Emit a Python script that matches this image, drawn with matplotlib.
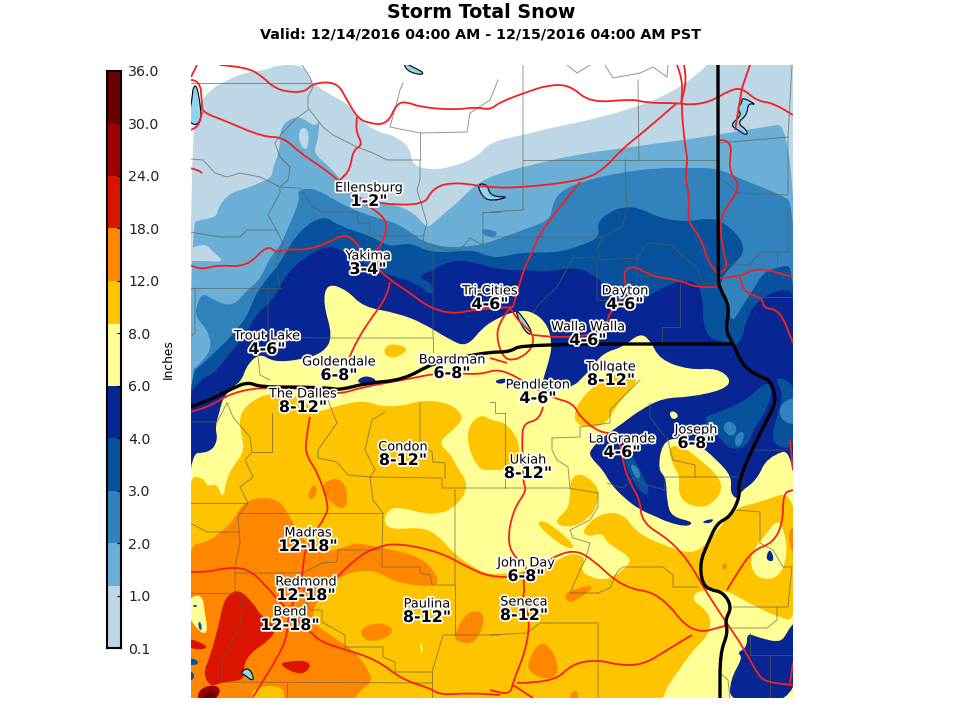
import matplotlib
matplotlib.use("Agg")
import matplotlib.pyplot as plt
import matplotlib.patheffects as pe
from matplotlib.path import Path
from matplotlib.patches import PathPatch

# colour classes of the snow total, inches
tick_labels = ["0.1", "1.0", "2.0", "3.0", "4.0", "6.0", "8.0", "12.0", "18.0", "24.0", "30.0", "36.0"]
class_edges = [0, 1.19, 2, 3, 4, 5, 6.18, 7, 8, 9, 10, 11]
class_colors = ["#bdd7e7", "#6baed6", "#3182bd", "#08519c", "#082693", "#ffff96",
                "#ffc400", "#ff8700", "#db1400", "#9e0000", "#690000"]

# contour outlines, in picture pixels
snow_01 = [(191,127),(200,103),(210,90),(227,80),(247,72),(267,70),(277,65),(302,65),(310,77),(313,83),(327,93),(347,103),
           (360,120),(377,132),(393,135),(410,147),(412,165),(430,170),(453,167),(477,157),(490,142),(523,135),(550,128),
           (590,120),(637,107),(673,92),(703,70),(708,62),(785,60),(798,60),(798,75),(798,690),(798,703),(785,703),
           (199,703),(186,703),(186,690)]
snow_1 = [(191,223),(200,220),(217,217),(218,207),(230,193),(247,188),(260,183),(272,177),(273,167),(280,150),(280,127),
          (293,117),(303,118),(315,127),(320,120),(319,125),(318,140),(313,153),(330,167),(343,183),(357,197),(387,203),
          (410,210),(423,223),(428,228),(440,217),(457,203),(477,183),(500,173),(523,167),(573,155),(623,148),(683,140),
          (717,135),(757,128),(798,122),(798,690),(798,703),(785,703),(199,703),(186,703),(186,690)]
snow_2 = [(191,370),(197,367),(212,350),(208,330),(195,317),(197,303),(203,293),(213,300),(233,307),(247,290),(260,280),
          (270,257),(280,247),(290,223),(300,200),(297,190),(313,188),(330,197),(347,207),(373,217),(397,223),(417,237),
          (427,243),(450,248),(480,245),(490,242),(510,235),(523,230),(550,220),(552,207),(558,193),(580,182),(617,173),
          (657,168),(687,168),(717,168),(743,180),(777,193),(798,205),(798,690),(798,703),(785,703),(199,703),(186,703),(186,690)]
snow_3 = [(186,378),(207,360),(217,350),(228,340),(247,317),(253,300),(263,283),(277,267),(283,257),(300,230),(323,215),
          (337,225),(373,237),(390,247),(407,243),(420,247),(430,252),(453,252),(473,250),(490,257),(503,257),(523,252),
          (557,253),(583,245),(600,237),(597,222),(610,212),(623,207),(640,208),(657,217),(683,222),(710,218),(723,222),
          (740,237),(745,252),(733,265),(723,275),(720,287),(725,303),(732,323),(740,310),(753,290),(763,273),(777,267),
          (798,265),(798,690),(798,703),(785,703),(199,703),(186,703),(186,690)]
snow_4 = [(186,398),(200,380),(210,375),(217,370),(230,353),(247,333),(257,313),(273,300),(283,280),(297,263),(317,250),
          (333,245),(357,260),(380,272),(417,283),(432,297),(433,283),(417,277),(433,270),(447,262),(467,260),(500,270),
          (523,270),(550,272),(573,267),(590,273),(603,283),(613,293),(623,313),(643,300),(663,287),(690,278),(703,290),
          (703,337),(730,343),(735,347),(743,337),(745,323),(757,300),(783,288),(798,295),(798,690),(798,703),(785,703),
          (199,703),(186,703),(186,690)]
snow_6 = [(186,453),(210,453),(218,440),(215,427),(220,410),(223,398),(233,387),(242,380),(247,365),(260,353),(273,362),
          (300,360),(323,353),(333,337),(323,303),(327,283),(347,290),(363,307),(397,313),(423,323),(450,340),(467,347),
          (483,327),(500,317),(513,312),(530,310),(547,323),(552,343),(550,357),(545,373),(540,392),(560,390),(575,385),
          (580,380),(590,370),(603,353),(623,347),(640,333),(650,340),(660,360),(690,370),(717,368),(732,380),(723,390),
          (690,397),(663,398),(640,410),(623,423),(603,437),(590,450),(590,457),(603,470),(610,483),(623,497),(640,510),
          (657,517),(667,522),(687,527),(694,522),(672,517),(667,503),(666,477),(658,470),(662,443),(677,437),(697,443),
          (717,460),(732,477),(730,493),(738,500),(740,492),(757,480),(767,457),(798,447),(798,690),(798,703),(785,703),
          (199,703),(186,703),(186,690)]
snow_8 = [(186,477),(203,477),(207,487),(217,483),(223,500),(227,477),(233,467),(245,450),(240,430),(240,413),(253,400),
          (270,393),(297,397),(303,400),(317,413),(333,407),(363,400),(383,407),(407,405),(423,400),(450,403),(465,417),
          (453,430),(438,443),(450,453),(457,467),(470,487),(453,510),(430,515),(403,508),(390,508),(383,520),(390,530),
          (423,527),(440,537),(453,553),(473,567),(490,575),(510,573),(533,570),(553,563),(570,553),(587,557),(580,570),
          (590,577),(603,580),(613,577),(633,562),(623,552),(607,543),(603,533),(587,537),(582,530),(600,513),(623,513),
          (637,533),(663,545),(693,555),(710,540),(723,523),(737,507),(758,503),(798,488),(798,622),(777,617),(743,600),
          (727,590),(697,590),(692,600),(703,607),(712,620),(707,637),(693,650),(677,673),(665,690),(663,703),(199,703),
          (186,703),(186,690)]
snow_12 = [(186,545),(207,543),(227,527),(233,520),(243,503),(260,497),(280,500),(290,517),(303,540),(320,553),(335,550),
           (350,545),(357,543),(380,547),(423,557),(440,580),(433,587),(397,583),(380,573),(367,570),(347,573),(333,583),
           (313,607),(313,623),(333,637),(357,653),(370,673),(372,682),(360,690),(353,703),(199,703),(186,703),(186,690)]
snow_18 = [(210,657),(220,620),(223,603),(230,593),(240,590),(253,603),(262,617),(277,627),(270,640),(250,653),(243,667),
           (245,680),(223,682),(210,687),(203,673)]
snow_24 = [(198,690),(213,684),(222,690),(213,703),(198,703)]
snow_30 = [(203,694),(212,689),(217,694),(212,703),(203,703)]

# smaller islands, each painted in its class on top of the outlines above
patches_after_1 = [
    (0, [(186,250),(205,243),(213,252),(225,262),(207,261),(186,261)]),
    (0, [(299,128),(309,128),(308,152),(299,144)]),
]
patches_after_2 = [(2, [(480,229),(495,230),(498,236),(485,237)])]
patches_after_5 = [
    (3, [(703,417),(717,413),(747,400),(767,380),(773,393),(763,417),(753,430),(747,447),(730,450),(720,437),(710,430)]),
    (2, [(723,425),(730,420),(738,428),(733,437),(725,433)]),
    (2, [(735,435),(745,430),(742,445),(735,447)]),
    (3, [(773,375),(798,385),(798,450),(770,445),(777,415),(784,395)]),
    (2, [(778,405),(798,395),(798,425),(782,422)]),
    (3, [(622,455),(630,452),(640,470),(650,490),(645,497),(632,480)]),
    (2, [(630,462),(640,470),(640,480),(633,475)]),
    (5, [(669,412),(675,411),(679,417),(672,420)]),
    (4, [(355,382),(365,375),(378,380),(370,385)]),
    (4, [(495,380),(508,378),(506,383),(497,384)]),
    (4, [(700,522),(715,518),(710,524)]),
    (4, [(730,703),(730,680),(743,657),(737,653),(747,647),(747,633),(757,637),(780,643),(787,633),(790,627),(798,620),(798,703)]),
]
patches_after_6 = [
    (6, [(473,420),(483,415),(490,420),(507,423),(520,443),(518,460),(507,470),(490,470),(480,470),(470,453),(467,433)]),
    (6, [(573,417),(580,400),(593,387),(610,375),(627,375),(640,380),(620,400),(610,418),(600,427),(580,427)]),
    (6, [(383,350),(390,343),(410,348),(397,358),(387,357)]),
    (6, [(570,480),(580,472),(600,487),(597,507),(587,520),(570,528),(553,523),(567,510),(570,500)]),
    (6, [(535,523),(545,520),(570,540),(575,550),(560,545)]),
    (6, [(668,447),(680,445),(697,457),(720,477),(722,493),(707,508),(687,505),(678,493),(680,477),(672,463)]),
    (5, [(750,567),(753,550),(767,533),(777,520),(783,527),(788,553),(780,577),(760,580)]),
    (4, [(770,547),(775,562),(765,560)]),
]
patches_after_12 = [
    (6, [(252,687),(283,685),(285,703),(252,703)]),
    (5, [(186,600),(202,593),(205,613),(208,633),(200,633),(186,613)]),
    (7, [(323,483),(337,477),(347,487),(347,508),(337,508),(323,493)]),
    (7, [(307,497),(313,483),(318,490),(313,500)]),
    (7, [(358,630),(377,622),(393,627),(390,637),(367,643)]),
    (7, [(453,637),(467,610),(487,613),(477,643),(460,643)]),
    (7, [(527,663),(540,640),(553,650),(560,673),(547,680),(530,673)]),
    (7, [(563,593),(590,585),(593,588),(577,600),(568,603)]),
    (7, [(570,693),(578,690),(578,703),(570,703)]),
    (7, [(788,530),(798,525),(798,555),(790,550)]),
    (7, [(722,564),(727,563),(727,569),(722,569)]),
    (5, [(420,644),(422,644),(423,652),(421,652)]),
]
patches_after_18 = [
    (8, [(280,663),(287,662),(303,660),(312,665),(303,675),(287,670)]),
    (8, [(186,637),(207,645),(205,650),(186,648)]),
    (3, [(198,622),(201,622),(202,630),(199,630)]),
    (3, [(186,657),(198,660),(198,665),(186,665)]),
    (3, [(186,672),(194,672),(194,680),(186,680)]),
    (3, [(193,605),(197,605),(197,607),(193,607)]),
]

# water bodies
lakes = [
    [(403,62),(417,69),(424,73),(420,75),(407,71)],
    [(193,87),(197,85),(201,110),(201,120),(195,126),(188,120),(192,100)],
    [(477,184),(487,184),(490,195),(500,197),(508,197),(493,201),(483,198)],
    [(742,97),(757,105),(748,103),(747,115),(737,123),(747,130),(747,136),(738,130),(730,125),(742,115),(737,108),(742,103)],
    [(515,309),(523,317),(533,333),(528,335),(520,323)],
    [(240,673),(248,667),(254,677),(252,681),(245,675)],
]

county_lines = [
    [(190,83),(310,83)],
    [(302,65),(310,77),(313,87),(308,97),(308,108),(323,127),(333,135),(357,147),(373,153),(387,160),(420,160),(420,180),(417,190),(427,223),(423,237),(425,247),(433,252)],
    [(308,110),(297,118),(282,133),(275,143),(280,157),(290,167),(288,180),(280,187),(300,188),(313,207),(322,212),(357,212),(358,223),(370,223),(370,236),(425,236)],
    [(190,159),(203,160),(215,173),(227,177),(240,173),(260,177),(280,187),(280,193),(268,215),(278,233),(283,243),(277,260),(277,273),(280,287)],
    [(190,232),(220,237),(240,237),(247,230),(277,230)],
    [(190,288),(280,288)],
    [(268,288),(268,337),(333,338),(433,338),(433,252)],
    [(195,288),(195,333),(190,337)],
    [(258,357),(260,375),(270,380)],
    [(433,338),(433,352)],
    [(483,212),(500,212)],
    [(483,212),(483,245),(470,238),(460,250),(447,250),(425,243)],
    [(523,65),(523,210),(490,212)],
    [(523,160),(717,160)],
    [(638,80),(639,160)],
    [(625,160),(627,210),(622,227),(602,237),(490,237)],
    [(602,237),(597,250),(600,260),(637,258),(647,243),(672,245),(683,257),(697,267),(703,283),(717,283)],
    [(597,260),(597,300),(627,302)],
    [(680,283),(680,327),(662,327),(662,343)],
    [(573,258),(598,257)],
    [(573,258),(557,287),(540,303),(533,313)],
    [(637,258),(637,275),(650,277)],
    [(720,143),(788,137),(792,65)],
    [(738,193),(788,195),(788,137)],
    [(723,265),(750,265),(760,252),(788,252),(788,208)],
    [(777,252),(777,267)],
    [(750,297),(792,297)],
    [(723,180),(738,193)],
    [(567,65),(577,73),(590,65)],
    [(605,65),(613,78),(640,73),(653,67),(667,77),(668,65)],
    [(498,80),(490,100),(470,113),(467,132),(420,133),(390,127),(400,90),(403,83)],
    [(420,133),(420,160)],
    [(190,422),(217,422),(227,403)],
    [(227,403),(233,417),(250,437),(252,452),(245,460),(253,477),(240,487),(248,503),(238,517),(240,543),(235,567),(235,593),(243,597),(240,627),(222,660),(222,680)],
    [(252,452),(272,452),(272,413)],
    [(328,400),(337,423),(318,450),(318,458),(337,462),(348,475),(370,477),(373,500),(383,513),(382,550),(382,567),(420,567),(420,573),(430,575),(432,585),(455,585),(455,490)],
    [(385,412),(372,420),(365,450),(375,470),(370,477)],
    [(370,477),(442,478),(442,488),(470,488),(490,488),(568,488),(598,493)],
    [(420,403),(420,443),(432,452),(433,462),(445,463),(445,478)],
    [(505,413),(505,488)],
    [(490,402),(495,402),(495,413),(505,413)],
    [(190,503),(247,503)],
    [(238,513),(382,513)],
    [(190,523),(207,532),(240,532)],
    [(235,573),(303,573),(322,563),(337,562),(338,550),(380,550)],
    [(190,593),(235,593)],
    [(303,593),(310,610),(322,610),(322,622),(345,635),(345,647),(383,647),(383,657),(395,662),(395,672),(432,672),(443,635),(500,635)],
    [(432,672),(432,698)],
    [(455,585),(455,635)],
    [(222,682),(432,683)],
    [(287,683),(287,698)],
    [(490,635),(527,633),(540,623),(598,623),(598,698)],
    [(598,593),(570,593),(580,570),(587,557)],
    [(598,593),(610,588),(617,572),(623,567),(663,567),(673,575),(673,587),(698,587)],
    [(598,493),(598,507),(590,520),(570,530),(573,538),(590,543),(586,557)],
    [(552,438),(552,450),(557,460),(568,467),(570,488)],
    [(552,438),(580,437),(580,427),(610,423),(610,410),(640,380)],
    [(650,403),(650,417),(665,437)],
    [(667,437),(673,460),(695,465),(695,477),(665,477),(665,490)],
    [(695,477),(742,477),(753,450),(792,450)],
    [(607,483),(623,488),(633,478),(647,485),(665,490)],
    [(737,510),(760,512),(760,543),(773,550),(783,567),(792,567),(788,607),(733,607)],
    [(777,607),(777,620),(767,628),(730,628)],
    [(750,633),(750,655),(792,655)],
    [(770,655),(770,698)],
    [(720,673),(728,680),(730,698)],
]

roads = [
    [(220,65),(247,67),(263,77),(273,87),(287,92),(305,92),(313,83),(337,82),(347,100),(357,117),(367,123),(387,125),(397,103),(407,102),(420,107),(453,110),(477,107),(490,110),(500,102),(527,92),(548,85),(570,85),(590,103),(633,99),(647,103),(678,103),(690,105),(710,102),(730,90),(742,88),(757,101),(773,103),(793,115)],
    [(197,65),(191,77)],
    [(191,80),(200,80),(202,103),(202,112),(223,120),(263,137),(283,137),(300,153),(323,168),(338,180),(355,195),(370,207),(385,218),(387,230),(380,248),(370,255)],
    [(202,112),(200,125),(191,130)],
    [(357,117),(355,130),(363,145),(353,150),(350,170),(340,180)],
    [(380,203),(423,208),(433,187),(457,182),(490,188),(530,187),(583,180),(603,170),(623,148),(640,135),(677,103)],
    [(190,265),(200,270),(217,265),(247,267),(267,245),(277,253),(287,249),(307,250),(330,242),(342,235),(353,238),(370,262),(390,280),(410,293),(430,308),(453,314),(473,310),(497,308),(513,307)],
    [(390,282),(387,297),(372,317),(357,340),(347,363)],
    [(513,307),(522,273),(533,250),(540,233),(560,207),(580,182)],
    [(677,65),(683,80),(681,103),(685,147),(688,160),(685,173),(690,203),(687,220),(702,240),(707,260),(717,273)],
    [(684,65),(687,80),(681,103)],
    [(720,140),(733,140),(728,170),(740,185),(732,200),(720,217),(722,247),(728,267),(720,273)],
    [(742,88),(750,65)],
    [(742,88),(735,130)],
    [(717,287),(697,288),(680,280),(653,277),(633,265),(623,272),(627,290),(618,303),(607,317),(607,333),(570,337),(553,337),(533,335)],
    [(720,278),(740,277),(757,267),(793,277)],
    [(740,277),(742,292),(763,298),(763,308),(780,310),(793,343)],
    [(190,412),(207,408),(233,392),(267,387),(297,388),(337,395),(363,387),(403,380),(443,372),(480,375),(500,368),(530,385),(553,398),(573,403),(580,417),(600,433),(618,433),(623,463),(630,483),(640,500),(642,523),(670,540),(690,563),(703,587),(728,625),(743,647),(757,673),(765,682),(793,685)],
    [(510,308),(498,323),(497,343),(507,363),(530,353),(535,335),(520,323),(510,308)],
    [(490,358),(507,363)],
    [(543,407),(540,420),(523,423),(522,443),(523,463),(523,483),(527,490),(513,510),(507,543),(517,560),(528,567),(523,580),(525,593),(520,603),(530,613),(527,647),(513,682),(510,695),(490,690)],
    [(337,577),(357,557),(377,547),(397,543),(440,552),(467,567),(490,577),(520,577),(553,557),(573,550),(590,557),(623,588),(660,593),(692,635),(728,625)],
    [(517,683),(553,683),(573,663),(600,660),(617,665),(643,665),(667,650),(692,635)],
    [(513,685),(533,698)],
    [(310,417),(305,443),(307,457),(318,473),(328,503),(327,515),(307,543),(303,563),(302,583),(288,613),(287,640),(270,670),(253,697)],
    [(190,572),(210,572),(223,568),(248,568),(267,587),(278,600),(310,632),(323,643),(347,650),(377,660),(403,680),(430,688),(440,695),(470,693),(500,695)],
    [(303,590),(337,577)],
    [(727,590),(737,573),(753,550),(773,543),(783,523),(783,493),(793,490)],
    [(790,440),(793,470)],
    [(793,663),(790,683)],
    [(190,168),(198,170),(202,173)],
]

state_lines = [
    [(191,407),(210,400),(233,388),(248,382),(260,387),(297,387),(330,388),(340,390),(367,383),(403,380),(433,363),(463,357),(490,352),(510,352),(522,344),(733,344)],
    [(718,65),(718,277),(719,287),(730,307),(725,330),(733,343),(740,360),(748,370),(763,378),(770,380),(777,400),(767,420),(753,447),(738,483),(740,497),(730,517),(717,523),(708,543),(700,562),(702,583),(710,590),(723,592),(732,607),(725,620),(728,633),(720,653),(720,698)],
]

cities = ["Ellensburg", "Yakima", "Tri-Cities", "Dayton", "Trout Lake", "Walla Walla", "Goldendale", "Boardman", "Tollgate",
          "Pendleton", "The Dalles", "Joseph", "La Grande", "Condon", "Ukiah", "Madras", "John Day", "Redmond", "Bend",
          "Paulina", "Seneca"]
city_snow = ['1-2"', '3-4"', '4-6"', '4-6"', '4-6"', '4-6"', '6-8"', '6-8"', '8-12"', '4-6"', '8-12"', '6-8"', '4-6"',
             '8-12"', '8-12"', '12-18"', '6-8"', '12-18"', '12-18"', '8-12"', '8-12"']
city_x = [369, 368, 490, 625, 267, 588, 339, 452, 611, 538, 303, 696, 622, 403, 528, 308, 526, 306, 290, 427, 524]
city_y = [188, 256, 291, 291, 336, 327, 362, 360, 367, 385, 394, 430, 439, 447, 460, 533, 563, 582, 612, 604, 602]

fig = plt.figure(figsize=(9.6, 7.2), dpi=100)
ax = fig.add_axes([191 / 960, 1 - 698 / 720, 602 / 960, 633 / 720])
ax.set_xlim(191, 793)
ax.set_ylim(698, 65)
ax.axis("off")


def mid(a, b):
    return ((a[0] + b[0]) / 2, (a[1] + b[1]) / 2)


# outlines were traced by hand, draw them as quadratic curves so they are not jagged
def closed_curve(points):
    verts = [mid(points[-1], points[0])]
    codes = [Path.MOVETO]
    for i, p in enumerate(points):
        verts += [p, mid(p, points[(i + 1) % len(points)])]
        codes += [Path.CURVE3, Path.CURVE3]
    return Path(verts, codes)


def open_curve(points):
    if len(points) < 3:
        return Path(points)
    verts = [points[0]]
    codes = [Path.MOVETO]
    for i, p in enumerate(points[1:-1], 1):
        verts += [p, mid(p, points[i + 1])]
        codes += [Path.CURVE3, Path.CURVE3]
    verts.append(points[-1])
    codes.append(Path.LINETO)
    return Path(verts, codes)


def paint(level, outline):
    ax.add_patch(PathPatch(closed_curve(outline), facecolor=class_colors[level], lw=0, zorder=1))


paint(0, snow_01)
paint(1, snow_1)
for level, outline in patches_after_1:
    paint(level, outline)
paint(2, snow_2)
for level, outline in patches_after_2:
    paint(level, outline)
paint(3, snow_3)
paint(4, snow_4)
paint(5, snow_6)
for level, outline in patches_after_5:
    paint(level, outline)
paint(6, snow_8)
for level, outline in patches_after_6:
    paint(level, outline)
paint(7, snow_12)
for level, outline in patches_after_12:
    paint(level, outline)
paint(8, snow_18)
for level, outline in patches_after_18:
    paint(level, outline)
paint(9, snow_24)
paint(10, snow_30)

for line in county_lines:
    xs, ys = zip(*line)
    ax.plot(xs, ys, color="#5e5e50", lw=0.7, alpha=0.65, zorder=2)
for lake in lakes:
    ax.add_patch(PathPatch(closed_curve(lake), facecolor="#8fd3f0", edgecolor="black", lw=0.8, zorder=3))
for line in roads:
    ax.add_patch(PathPatch(open_curve(line), facecolor="none", edgecolor="#f52020", lw=1.3, zorder=4))
for line in state_lines:
    ax.add_patch(PathPatch(open_curve(line), facecolor="none", edgecolor="black", lw=2.4, zorder=5))

halo = [pe.withStroke(linewidth=2.5, foreground="white")]
for name, amount, x, y in zip(cities, city_snow, city_x, city_y):
    ax.text(x, y, name, fontsize=9.3, ha="center", va="center", color="black", path_effects=halo, zorder=6)
    ax.text(x, y + 13.5, amount, fontsize=11.5, fontweight="bold", ha="center", va="center", color="black",
            path_effects=halo, zorder=6)

# colour bar, tick spacing is even whatever the value
cax = fig.add_axes([107 / 960, 1 - 648 / 720, 14 / 960, 577 / 720])
for i, color in enumerate(class_colors):
    cax.bar(0, class_edges[i + 1] - class_edges[i], bottom=class_edges[i], width=1, color=color, lw=0)
cax.set_xlim(-0.5, 0.5)
cax.set_ylim(0, 11)
cax.set_xticks([])
cax.yaxis.tick_right()
cax.set_yticks(range(12))
cax.set_yticklabels(tick_labels, fontsize=10.2, color="#222222")
cax.tick_params(axis="y", direction="in", length=3, width=0.8, pad=5)
for spine in cax.spines.values():
    spine.set_linewidth(1.5)
fig.text(168 / 960, 1 - 359 / 720, "Inches", rotation=90, fontsize=8.8, ha="center", va="center")

fig.text(481 / 960, 1 - 13 / 720, "Storm Total Snow", fontsize=13.7, fontweight="bold", ha="center", va="center")
fig.text(480 / 960, 1 - 34 / 720, "Valid: 12/14/2016 04:00 AM - 12/15/2016 04:00 AM PST", fontsize=10.3,
         fontweight="bold", ha="center", va="center")

fig.savefig("out.png", dpi=100)
